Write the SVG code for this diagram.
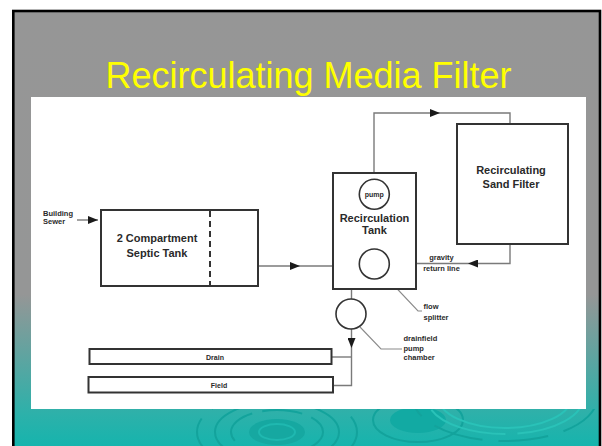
<svg xmlns="http://www.w3.org/2000/svg" width="602" height="446" viewBox="0 0 602 446">
<defs>
<linearGradient id="bg" gradientUnits="userSpaceOnUse" x1="0" y1="0" x2="0" y2="446">
<stop offset="0" stop-color="#969696"/>
<stop offset="0.66" stop-color="#959696"/>
<stop offset="0.93" stop-color="#2cb1aa"/>
<stop offset="1" stop-color="#16b4ad"/>
</linearGradient>
<clipPath id="bottom"><rect x="15" y="409" width="584" height="37"/></clipPath>
<marker id="ah" markerUnits="userSpaceOnUse" markerWidth="10" markerHeight="8" refX="10" refY="4" orient="auto">
<path d="M0,0 L10,4 L0,8 Z" fill="#1a1a1a"/>
</marker>
<style>
.box{fill:#fff;stroke:#333;stroke-width:2}
.circ{fill:#fff;stroke:#333;stroke-width:1.6}
.con{fill:none;stroke:#7a7a7a;stroke-width:1.4}
.lead{fill:none;stroke:#8a8a8a;stroke-width:1.1}
.lbl{font-family:"Liberation Sans",Arial,sans-serif;font-weight:bold;fill:#2a2a2a}
.big{font-size:11px;text-anchor:middle}
.sm{font-size:7.5px}
.rip{fill:none;stroke:#2ac2b8;stroke-width:2}
.ripd{fill:none;stroke:#13a39c;stroke-width:2}
</style>
</defs>

<!-- slide background -->
<rect x="0" y="0" width="602" height="446" fill="#fff"/>
<rect x="13.3" y="11" width="586.7" height="450" fill="url(#bg)" stroke="#000" stroke-width="2.6"/>

<!-- ripples -->
<g clip-path="url(#bottom)">
<ellipse cx="277" cy="432" rx="80" ry="40" class="ripd" stroke-dasharray="60,14"/>
<ellipse cx="277" cy="432" rx="62" ry="30" class="ripd"/>
<ellipse cx="277" cy="432" rx="46" ry="22" class="ripd" stroke-dasharray="40,10"/>
<ellipse cx="277" cy="432" rx="28" ry="13" fill="#16a8a1"/>
<ellipse cx="277" cy="432" rx="18" ry="8" fill="none" stroke="#1fb8b0" stroke-width="2"/>
<ellipse cx="418" cy="420" rx="45" ry="22" class="ripd"/>
<ellipse cx="418" cy="420" rx="28" ry="13" fill="#12aaa3"/>
<ellipse cx="505" cy="398" rx="66" ry="30" class="rip"/>
<ellipse cx="505" cy="398" rx="78" ry="36" class="rip" stroke-dasharray="80,12"/>
<ellipse cx="505" cy="398" rx="92" ry="43" class="ripd" stroke-dasharray="50,16"/>
</g>

<!-- title -->
<text x="308.5" y="88" font-family="'Liberation Sans',Arial,sans-serif" font-size="36" fill="#ffff00" text-anchor="middle">Recirculating Media Filter</text>

<!-- white picture area -->
<rect x="31" y="97" width="555" height="312" fill="#fff"/>

<!-- connectors -->
<g id="connectors">
<path class="con" d="M77,220 H98" marker-end="url(#ah)"/>
<path class="con" d="M258,266 H300" marker-end="url(#ah)"/>
<path class="con" d="M300,266 H333"/>
<path class="con" d="M374,179 V113 H440" marker-end="url(#ah)"/>
<path class="con" d="M440,113 H510 V124"/>
<path class="con" d="M510,244 V263.5 H468" marker-end="url(#ah)"/>
<path class="con" d="M468,263.5 H389"/>
<path class="con" d="M359,264 H351.5 V283" marker-end="url(#ah)"/>
<path class="con" d="M351.5,283 V299"/>
<path class="con" d="M351.5,329 V348" marker-end="url(#ah)"/>
<path class="con" d="M351.5,348 V385.5 H333"/>
<path class="con" d="M351.5,357 H332"/>
<path class="lead" d="M385,276 L418,311 H422"/>
<path class="lead" d="M360,327 L381,349 H402"/>
</g>

<!-- nodes -->
<g id="building-sewer">
<text class="lbl sm" x="43" y="216">Building</text>
<text class="lbl sm" x="43" y="224">Sewer</text>
</g>

<g id="septic-tank">
<rect class="box" x="101" y="210" width="157" height="76"/>
<line x1="210" y1="211" x2="210" y2="285" stroke="#333" stroke-width="2" stroke-dasharray="6,4"/>
<text class="lbl big" x="157" y="242">2 Compartment</text>
<text class="lbl big" x="157" y="257">Septic Tank</text>
</g>

<g id="recirculation-tank">
<rect class="box" x="333" y="173" width="83" height="116"/>
<text class="lbl big" x="374.5" y="222">Recirculation</text>
<text class="lbl big" x="374.5" y="234">Tank</text>
</g>

<g id="pump">
<circle class="circ" cx="374.3" cy="194.3" r="15"/>
<text class="lbl" x="374.3" y="197" font-size="7" text-anchor="middle">pump</text>
</g>

<g id="sand-filter">
<rect class="box" x="457" y="124" width="111" height="120"/>
<text class="lbl big" x="511" y="174">Recirculating</text>
<text class="lbl big" x="511" y="188">Sand Filter</text>
</g>

<g id="gravity-return-label">
<text class="lbl sm" x="441.5" y="259.5" text-anchor="middle">gravity</text>
<text class="lbl sm" x="441.5" y="271" text-anchor="middle">return line</text>
</g>

<g id="flow-splitter">
<circle class="circ" cx="374.3" cy="264" r="15"/>
<text class="lbl sm" x="423.5" y="309">flow</text>
<text class="lbl sm" x="423.5" y="320">splitter</text>
</g>

<g id="pump-chamber">
<circle class="circ" cx="351" cy="314" r="15"/>
<text class="lbl sm" x="403.5" y="341">drainfield</text>
<text class="lbl sm" x="403.5" y="350.5">pump</text>
<text class="lbl sm" x="403.5" y="360">chamber</text>
</g>

<g id="drain">
<rect class="box" x="89.5" y="349" width="242" height="15"/>
<text class="lbl" x="215" y="359.5" font-size="7" text-anchor="middle">Drain</text>
</g>

<g id="field">
<rect class="box" x="88.5" y="377" width="244.5" height="15.5"/>
<text class="lbl" x="219" y="387.5" font-size="7" text-anchor="middle">Field</text>
</g>
</svg>
